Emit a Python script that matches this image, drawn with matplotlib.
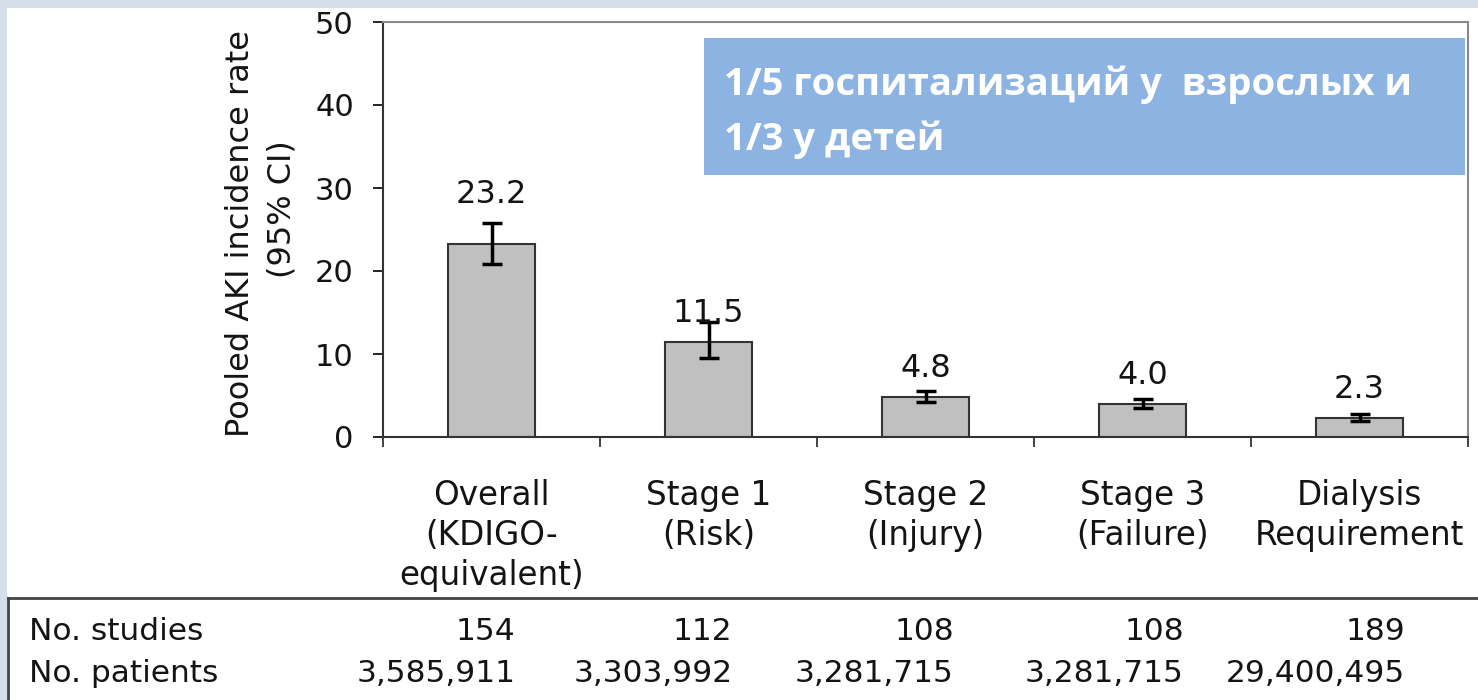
"""AKI incidence bar chart with CI whiskers, study counts table and callout box."""
import matplotlib
matplotlib.use("Agg")
import matplotlib.pyplot as plt
import numpy as np
from matplotlib.patches import Rectangle
from matplotlib.transforms import blended_transform_factory

categories = ["Overall\n(KDIGO-\nequivalent)", "Stage 1\n(Risk)", "Stage 2\n(Injury)",
              "Stage 3\n(Failure)", "Dialysis\nRequirement"]
rates = [23.2, 11.5, 4.8, 4.0, 2.3]
ci_low = [20.9, 9.5, 4.2, 3.5, 1.9]
ci_high = [25.8, 13.8, 5.6, 4.6, 2.8]
n_studies = ["154", "112", "108", "108", "189"]
n_patients = ["3,585,911", "3,303,992", "3,281,715", "3,281,715", "29,400,495"]
callout = "1/5 госпитализаций у  взрослых и\n1/3 у детей"

W, H = 1478, 700
INK = "#141414"
plt.rcParams["font.family"] = ["DejaVu Sans"]
fig = plt.figure(figsize=(W / 100, H / 100), dpi=100, facecolor="white")

# slide background strips
fig.patches.append(Rectangle((0, 1 - 8 / H), 1, 8 / H, transform=fig.transFigure,
                             facecolor="#d6dee9", edgecolor="none", zorder=0))
fig.patches.append(Rectangle((0, 0), 7 / W, 1, transform=fig.transFigure,
                             facecolor="#d6dee9", edgecolor="none", zorder=0))

ax = fig.add_axes([383 / W, (H - 437) / H, (1468 - 383) / W, (437 - 22) / H])
x = np.arange(len(rates))
rates_a = np.array(rates)
yerr = [rates_a - np.array(ci_low), np.array(ci_high) - rates_a]
ax.bar(x, rates, width=0.405, color="#c0c0c0", edgecolor="#333333", lw=1.5, zorder=2)
ax.errorbar(x, rates, yerr=yerr, fmt="none", ecolor="black", elinewidth=2.5,
            capsize=7, capthick=2.5, zorder=3)

# value labels: first sits above its whisker, the rest just above the bar
label_on_ci = [True, False, False, False, False]
for xi, v, hi, on_ci in zip(x, rates, ci_high, label_on_ci):
    base = hi if on_ci else v
    ax.text(xi, base + 3.4, f"{v:.1f}", ha="center", va="center", fontsize=23,
            color=INK)

ax.set_xlim(-0.5, len(rates) - 0.5)
ax.set_ylim(0, 50)
ax.set_yticks(range(0, 51, 10))
ax.tick_params(axis="y", direction="out", length=7, width=1.3, pad=14,
               labelsize=22, colors=INK)
ax.set_xticks(x)
ax.set_xticklabels(categories, fontsize=23.5, linespacing=1.27, color=INK)
ax.tick_params(axis="x", which="major", length=0, pad=30)
ax.set_xticks(np.arange(-0.5, len(rates)), minor=True)
ax.tick_params(axis="x", which="minor", direction="out", length=7, width=1.3,
               color="#333333")
for side in ("left", "bottom"):
    ax.spines[side].set_color("#333333")
    ax.spines[side].set_linewidth(1.5)
for side in ("top", "right"):
    ax.spines[side].set_color("#8a8a8a")
    ax.spines[side].set_linewidth(1.5)

ax.text(-0.131, 0.49, "Pooled AKI incidence rate", transform=ax.transAxes,
        rotation=90, ha="center", va="center", fontsize=23, color=INK)
ax.text(-0.093, 0.55, "(95% CI)", transform=ax.transAxes,
        rotation=90, ha="center", va="center", fontsize=23, color=INK)

# table below the chart
fig.add_artist(plt.Line2D([8 / W, 1], [1 - 598 / H] * 2, transform=fig.transFigure,
                          color="#444444", lw=2))
fig.add_artist(plt.Line2D([8 / W, 8 / W], [0, 1 - 598 / H], transform=fig.transFigure,
                          color="#444444", lw=2))
row_y = [1 - 632 / H, 1 - 673 / H]
fig.text(29 / W, row_y[0], "No. studies", ha="left", va="center", fontsize=22.5,
         color=INK)
fig.text(29 / W, row_y[1], "No. patients", ha="left", va="center", fontsize=22.5,
         color=INK)
tbl = blended_transform_factory(ax.transData, fig.transFigure)
col_shift = [0.11, 0.11, 0.13, 0.19, 0.21]
for xi, s, p, dx in zip(x, n_studies, n_patients, col_shift):
    ax.text(xi + dx, row_y[0], s, transform=tbl, ha="right", va="center",
            fontsize=22.5, color=INK, clip_on=False)
    ax.text(xi + dx, row_y[1], p, transform=tbl, ha="right", va="center",
            fontsize=22.5, color=INK, clip_on=False)

# callout box
fig.patches.append(Rectangle((704 / W, 1 - 175 / H), (1465 - 704) / W, (175 - 38) / H,
                             transform=fig.transFigure, facecolor="#8db3e2",
                             edgecolor="none", zorder=5))
fig.text(724 / W, 1 - 112 / H, callout, ha="left", va="center", fontsize=27.5,
         fontfamily="Open Sans", fontweight="bold", color="white", linespacing=1.55,
         zorder=6)

fig.savefig("out.png", dpi=100)
